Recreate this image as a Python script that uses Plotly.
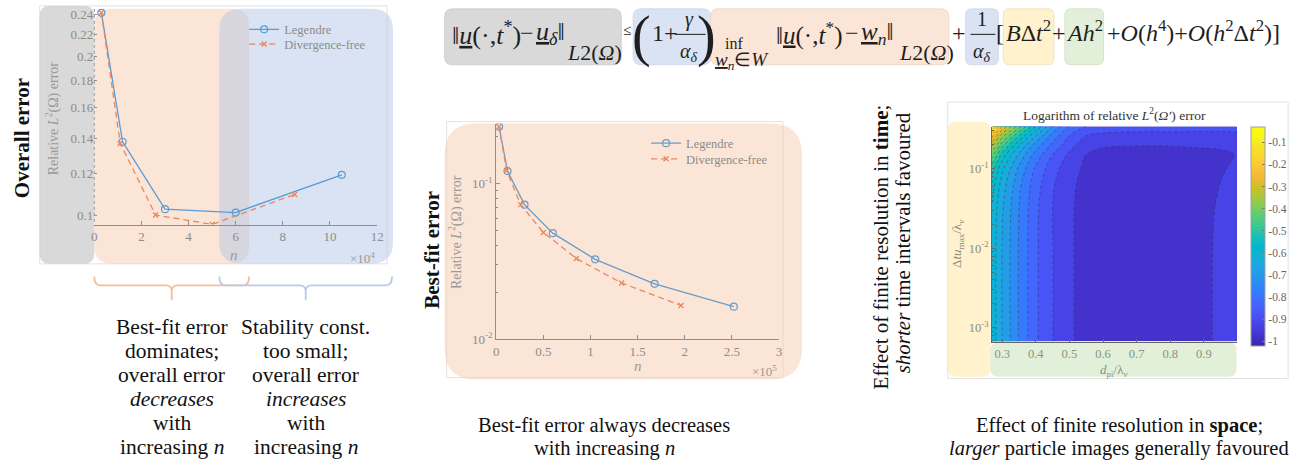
import math
import plotly.graph_objects as go

# ---------------- data ----------------
# Overall error vs number of basis functions n
n_leg_overall = [3000, 12000, 30000, 60000, 105000]
err_leg_overall = [0.242, 0.138, 0.1029, 0.1014, 0.1195]
n_div_overall = [3000, 11000, 26000, 50000, 85000]
err_div_overall = [0.242, 0.137, 0.1003, 0.0963, 0.1097]

# Best-fit error vs n
n_leg_bestfit = [3000, 12000, 30000, 60000, 105000, 168000, 252000]
err_leg_bestfit = [0.231, 0.120, 0.0731, 0.048, 0.0326, 0.0227, 0.0162]
n_div_bestfit = [3000, 11000, 26000, 50000, 85000, 133000, 196000]
err_div_bestfit = [0.231, 0.121, 0.0731, 0.0485, 0.033, 0.023, 0.0165]

# Logarithm of relative error over particle-image size and time step
d_pi = [0.27, 0.30, 0.35, 0.40, 0.45, 0.50, 0.55, 0.60, 0.70, 0.80, 0.90, 0.95, 1.00]
dt_umax = [0.00068, 0.001, 0.01, 0.03, 0.06, 0.1, 0.15, 0.2, 0.26, 0.34]
log_err = [
    [-0.57, -0.652, -0.754, -0.842, -0.899, -0.942, -0.970, -0.980, -0.990, -0.985, -0.965, -0.935, -0.915],
    [-0.57, -0.652, -0.754, -0.842, -0.899, -0.942, -0.970, -0.980, -0.990, -0.985, -0.965, -0.935, -0.915],
    [-0.57, -0.652, -0.754, -0.842, -0.899, -0.942, -0.970, -0.980, -0.990, -0.985, -0.965, -0.936, -0.916],
    [-0.56, -0.645, -0.750, -0.840, -0.900, -0.942, -0.970, -0.980, -0.990, -0.985, -0.967, -0.940, -0.920],
    [-0.53, -0.625, -0.740, -0.830, -0.895, -0.940, -0.965, -0.980, -0.988, -0.985, -0.968, -0.948, -0.930],
    [-0.48, -0.590, -0.710, -0.810, -0.880, -0.930, -0.960, -0.975, -0.983, -0.980, -0.968, -0.955, -0.940],
    [-0.38, -0.520, -0.660, -0.770, -0.850, -0.910, -0.950, -0.967, -0.972, -0.970, -0.962, -0.958, -0.948],
    [-0.28, -0.430, -0.590, -0.720, -0.810, -0.880, -0.930, -0.942, -0.946, -0.946, -0.944, -0.942, -0.938],
    [-0.18, -0.330, -0.500, -0.650, -0.770, -0.850, -0.900, -0.912, -0.915, -0.915, -0.914, -0.913, -0.910],
    [-0.04, -0.200, -0.380, -0.550, -0.700, -0.800, -0.850, -0.870, -0.880, -0.880, -0.883, -0.885, -0.885],
]

overall_xticks = [0, 20000, 40000, 60000, 80000, 100000, 120000]
overall_xlabels = ["0", "2", "4", "6", "8", "10", "12"]
overall_yticks = [0.1, 0.12, 0.14, 0.16, 0.18, 0.2, 0.22, 0.24]
overall_ylabels = ["0.1", "0.12", "0.14", "0.16", "0.18", "0.2", "0.22", "0.24"]
bestfit_xticks = [0, 50000, 100000, 150000, 200000, 250000, 300000]
bestfit_xlabels = ["0", "0.5", "1", "1.5", "2", "2.5", "3"]
contour_xticks = [0.3, 0.4, 0.5, 0.6, 0.7, 0.8, 0.9]
contour_yticks = [0.001, 0.01, 0.1]
contour_ylabels = ["10<sup>-3</sup>", "10<sup>-2</sup>", "10<sup>-1</sup>"]
cbar_ticks = [-0.1, -0.2, -0.3, -0.4, -0.5, -0.6, -0.7, -0.8, -0.9, -1.0]
cbar_labels = ["-0.1", "-0.2", "-0.3", "-0.4", "-0.5", "-0.6", "-0.7", "-0.8", "-0.9", "-1"]

# ---------------- helpers ----------------
W, H = 1313, 468
SERIF = "Liberation Serif"
TICK_GRAY = "#8c8c8c"
AX = "#8f8f8f"


def X(p):
    return p / W


def Y(p):
    return 1 - p / H


parula_rgb = [
    (0.2422, 0.1504, 0.6603), (0.2647, 0.1978, 0.7952), (0.2783, 0.2559, 0.8991),
    (0.2810, 0.3228, 0.9579), (0.2699, 0.3892, 0.9906), (0.2206, 0.4603, 0.9973),
    (0.1786, 0.5289, 0.9682), (0.1540, 0.5902, 0.9218), (0.1248, 0.6459, 0.8883),
    (0.0689, 0.6948, 0.8394), (0.0036, 0.7203, 0.7917), (0.0964, 0.7500, 0.7120),
    (0.2161, 0.7843, 0.5923), (0.3406, 0.8008, 0.4789), (0.5044, 0.7993, 0.3480),
    (0.6720, 0.7793, 0.2227), (0.8203, 0.7498, 0.1535), (0.9393, 0.7288, 0.2100),
    (0.9970, 0.7659, 0.2199), (0.9786, 0.8386, 0.1766), (0.9610, 0.8890, 0.1537),
    (0.9691, 0.9606, 0.1064), (0.9769, 0.9839, 0.0805),
]
PARULA = [[i / (len(parula_rgb) - 1),
           "rgb(%d,%d,%d)" % tuple(round(255 * c) for c in rgb)]
          for i, rgb in enumerate(parula_rgb)]


def pix_path(cmds, close=False):
    out = []
    for p in cmds:
        cmd, coords = p[0], p[1:]
        pairs = ["%.5f,%.5f" % (X(coords[i]), Y(coords[i + 1])) for i in range(0, len(coords), 2)]
        out.append(cmd + " " + " ".join(pairs))
    return " ".join(out) + (" Z" if close else "")


def rrect_path(x0, y0, x1, y1, r):
    return pix_path([("M", x0 + r, y0), ("L", x1 - r, y0), ("Q", x1, y0, x1, y0 + r),
                     ("L", x1, y1 - r), ("Q", x1, y1, x1 - r, y1), ("L", x0 + r, y1),
                     ("Q", x0, y1, x0, y1 - r), ("L", x0, y0 + r), ("Q", x0, y0, x0 + r, y0)], close=True)


shapes = []


def box(x0, y0, x1, y1, r, fill, opacity=1.0, line=None):
    shapes.append(dict(type="path", xref="paper", yref="paper", path=rrect_path(x0, y0, x1, y1, r),
                       fillcolor=fill, opacity=opacity, layer="below",
                       line=dict(color=line or "rgba(0,0,0,0)", width=0.8 if line else 0)))


def frame(x0, y0, x1, y1):
    shapes.append(dict(type="rect", xref="paper", yref="paper", x0=X(x0), x1=X(x1), y0=Y(y0), y1=Y(y1),
                       line=dict(color="#e2e2e2", width=1), layer="below"))


def hline(x0, x1, y, color="#222", width=1.0):
    shapes.append(dict(type="line", xref="paper", yref="paper", x0=X(x0), x1=X(x1), y0=Y(y), y1=Y(y),
                       line=dict(color=color, width=width)))


annotations = []


def txt(x, y, s, size=18, color="#111", xanchor="center", yanchor="middle", angle=0):
    annotations.append(dict(x=X(x), y=Y(y), xref="paper", yref="paper", text=s, showarrow=False,
                            font=dict(family=SERIF, size=size, color=color),
                            xanchor=xanchor, yanchor=yanchor, textangle=angle))


def legend_box(x, top):
    return dict(x=X(x), y=Y(top), xanchor="left", yanchor="top", bgcolor="rgba(0,0,0,0)",
                font=dict(family=SERIF, size=12.5, color=TICK_GRAY), itemwidth=30, tracegroupgap=0)


# ---------------- traces ----------------
LEG_C = "#5b9bd5"
DIV_C = "#e8875c"
LEG_C2 = "#6b9cc6"
DIV_C2 = "#e68a60"

fig = go.Figure()
fig.add_trace(go.Scatter(x=n_leg_overall, y=err_leg_overall, mode="lines+markers", name="Legendre",
                         line=dict(color=LEG_C, width=1.3),
                         marker=dict(symbol="circle-open", size=7, line=dict(width=1.2, color=LEG_C)),
                         xaxis="x", yaxis="y", legend="legend"))
fig.add_trace(go.Scatter(x=n_div_overall, y=err_div_overall, mode="lines+markers", name="Divergence-free",
                         line=dict(color=DIV_C, width=1.3, dash="6px,4px"),
                         marker=dict(symbol="x-thin-open", size=5, line=dict(width=1.3, color=DIV_C)),
                         xaxis="x", yaxis="y", legend="legend2"))
fig.add_trace(go.Scatter(x=n_leg_bestfit, y=err_leg_bestfit, mode="lines+markers", name="Legendre",
                         line=dict(color=LEG_C2, width=1.3),
                         marker=dict(symbol="circle-open", size=7, line=dict(width=1.2, color=LEG_C2)),
                         xaxis="x2", yaxis="y2", legend="legend3"))
fig.add_trace(go.Scatter(x=n_div_bestfit, y=err_div_bestfit, mode="lines+markers", name="Divergence-free",
                         line=dict(color=DIV_C2, width=1.3, dash="6px,4px"),
                         marker=dict(symbol="x-thin-open", size=5, line=dict(width=1.3, color=DIV_C2)),
                         xaxis="x2", yaxis="y2", legend="legend4"))

fig.add_trace(go.Contour(x=d_pi, y=dt_umax, z=log_err, xaxis="x3", yaxis="y3",
                         colorscale=PARULA, showscale=False, showlegend=False,
                         contours=dict(start=-1.0, end=0.0, size=0.05, coloring="fill"),
                         line=dict(color="rgba(40,40,40,0.55)", width=0.7, dash="dot")))
# continuous colour bar for the contour panel
fig.add_trace(go.Scatter(x=[None], y=[None], mode="markers", xaxis="x3", yaxis="y3", showlegend=False,
                         marker=dict(color=[-0.5], colorscale=PARULA, cmin=-1.02, cmax=-0.03, showscale=True,
                                     colorbar=dict(x=X(1258), xanchor="left", y=Y(128.3), yanchor="top",
                                                   len=219, lenmode="pixels", thickness=14,
                                                   thicknessmode="pixels", xpad=0, ypad=0,
                                                   outlinewidth=1, outlinecolor="#a0a0a0",
                                                   tickvals=cbar_ticks, ticktext=cbar_labels,
                                                   ticks="inside", ticklen=3, tickcolor="#777",
                                                   tickfont=dict(family=SERIF, size=11.5, color="#666")))))

# ---------------- decorations ----------------
# left panel: overall error
frame(37, 5, 387, 268)
box(37, 5, 92, 268, 10, "#b3b3b3", 0.5)
box(92, 8, 248, 268, 18, "#f8cbad", 0.5)
box(218, 8, 393, 268, 22, "#b4c7e7", 0.5)
shapes.append(dict(type="line", xref="paper", yref="paper", x0=X(92), x1=X(92), y0=Y(8), y1=Y(228),
                   line=dict(color="#9a9a9a", width=1, dash="dot")))
# braces under the left panel
shapes.append(dict(type="path", xref="paper", yref="paper", line=dict(color="#f1c09f", width=1.8),
                   path=pix_path([("M", 92, 281), ("Q", 92, 290, 98, 290), ("L", 164, 290),
                                  ("Q", 170, 290, 170, 296), ("L", 170, 305), ("M", 170, 296),
                                  ("Q", 170, 290, 176, 290), ("L", 242, 290), ("Q", 248, 290, 248, 281)])))
shapes.append(dict(type="path", xref="paper", yref="paper", line=dict(color="#b9cbe8", width=1.8),
                   path=pix_path([("M", 218, 281), ("Q", 218, 290, 224, 290), ("L", 299, 290),
                                  ("Q", 305, 290, 305, 296), ("L", 305, 305), ("M", 305, 296),
                                  ("Q", 305, 290, 311, 290), ("L", 386, 290), ("Q", 392, 290, 392, 281)])))

# middle panel: best-fit error
frame(447, 123, 786, 384)
box(445, 125, 805, 386, 32, "#f8cbad", 0.5)

# right panel: contour
frame(952, 103, 1295, 385)
box(952, 123, 995, 383, 8, "#ffe699", 0.5)
box(995, 348, 1243, 383, 8, "#c5e0b4", 0.5)

# equation boxes
box(445, 8, 623, 65, 8, "#d9d9d9", 1, "#c9c9c9")
box(635, 8, 713, 65, 8, "#dae3f3", 1, "#cbd5e6")
box(713, 8, 953, 65, 8, "#fbe5d6", 1, "#ecd3c2")
box(970, 8, 1003, 65, 6, "#dae3f3", 1, "#cbd5e6")
box(1008, 8, 1059, 65, 6, "#fff2cc", 1, "#eadfb8")
box(1070, 8, 1109, 65, 6, "#e2f0d9", 1, "#cfdfc4")

# ---------------- equation ----------------
EQ = "#1e1e1e"
ES = 24
txt(450, 33, "‖<i><u>u</u></i>(·,<i>t</i><sup>*</sup>)", 26, EQ, "left")
txt(528, 33, "−", ES, EQ)
txt(535, 33, "<i><u>u</u></i><sub><i>δ</i></sub>‖", 26, EQ, "left")
txt(566, 52, "<i>L</i>2(<i>Ω</i>)", 22, EQ, "left")
txt(629, 30, "≤", 15, EQ)
txt(643, 36, "(", 56, EQ)
txt(652, 33, "1+", ES, EQ, "left")
txt(692, 19, "<i>γ</i>", 20, EQ)
hline(677, 708, 34, EQ, 1)
txt(691, 52, "<i>α</i><sub><i>δ</i></sub>", 20, EQ)
txt(709, 36, ")", 56, EQ)
txt(737, 43, "inf", 16, EQ)
txt(715, 61, "<i><u>w</u></i><sub><i>n</i></sub>∈<i>W</i>", 19, EQ, "left")
txt(777, 33, "‖<i><u>u</u></i>(·,<i>t</i><sup>*</sup>)", 25, EQ, "left")
txt(856, 33, "−", ES, EQ)
txt(863, 33, "<i><u>w</u></i><sub><i>n</i></sub>‖", 25, EQ, "left")
txt(901, 52, "<i>L</i>2(<i>Ω</i>)", 22, EQ, "left")
txt(963, 33, "+", ES, EQ)
txt(987, 18, "1", 20, EQ)
hline(975, 1000, 34, EQ, 1)
txt(987, 52, "<i>α</i><sub><i>δ</i></sub>", 20, EQ)
txt(1005, 33, "[", ES, EQ)
txt(1033, 31, "<i>B</i>Δ<i>t</i><sup>2</sup>", ES, EQ)
txt(1064, 33, "+", ES, EQ)
txt(1090, 31, "<i>Ah</i><sup>2</sup>", ES, EQ)
txt(1110, 31, "+<i>O</i>(<i>h</i><sup>4</sup>)+<i>O</i>(<i>h</i><sup>2</sup>Δ<i>t</i><sup>2</sup>)]", ES, EQ, "left")

# ---------------- panel labels ----------------
txt(19, 140, "<b>Overall error</b>", 21, "#111", angle=-90)
txt(432, 254, "<b>Best-fit error</b>", 21, "#111", angle=-90)
txt(885, 251, "Effect of finite resolution in <b>time</b>;", 21, "#111", angle=-90)
txt(907, 247, "<i>shorter</i> time intervals favoured", 21, "#111", angle=-90)

txt(50, 120, "Relative <i>L</i><sup>2</sup>(Ω) error", 14, "#9a9a9a", angle=-90)
txt(233, 259, "<i>n</i>", 15, "#9a9a9a")
txt(362, 262, "×10<sup>4</sup>", 13, "#9a9a9a")
txt(456, 236, "Relative <i>L</i><sup>2</sup>(Ω) error", 14, "#9a9a9a", angle=-90)
txt(640, 372, "<i>n</i>", 15, "#9a9a9a")
txt(767, 377, "×10<sup>5</sup>", 13, "#9a9a9a")

txt(1120, 116, "Logarithm of relative <i>L</i><sup>2</sup>(<i>Ω′</i>) error", 13.5, "#333")
txt(962, 247, "Δ<i>tu</i><sub>max</sub>/λ<sub><i>ν</i></sub>", 13, "#8d8a78", angle=-90)
txt(1120, 377, "<i>d</i><sub>pi</sub>/λ<sub><i>ν</i></sub>", 13, "#8a9384")

# ---------------- captions ----------------
left_lines = ["Best-fit error", "dominates;", "overall error", "<i>decreases</i>", "with", "increasing <i>n</i>"]
right_lines = ["Stability const.", "too small;", "overall error", "<i>increases</i>", "with", "increasing <i>n</i>"]
for i, (a, b) in enumerate(zip(left_lines, right_lines)):
    yy = 332 + i * 24.6
    txt(170, yy, a, 21.5)
    txt(305, yy, b, 21.5)
txt(606, 433, "Best-fit error always decreases", 20.5)
txt(606, 456, "with increasing <i>n</i>", 20.5)
txt(1125, 433, "Effect of finite resolution in <b>space</b>;", 20.5)
txt(1125, 456, "<i>larger</i> particle images generally favoured", 20.5)

# ---------------- axes ----------------
tickfont = dict(family=SERIF, size=13, color=TICK_GRAY)
common = dict(showgrid=False, zeroline=False, ticks="inside", tickcolor=AX, tickfont=tickfont)

fig.update_layout(
    width=W, height=H, margin=dict(l=0, r=0, t=0, b=0),
    paper_bgcolor="white", plot_bgcolor="rgba(0,0,0,0)",
    xaxis=dict(domain=[X(92), X(377)], range=[0, 120000], tickvals=overall_xticks, ticktext=overall_xlabels,
               anchor="y", showline=True, linecolor=AX, ticklen=4, **common),
    yaxis=dict(domain=[Y(228), Y(8)], type="log", range=[math.log10(0.0962), math.log10(0.2462)],
               tickvals=overall_yticks, ticktext=overall_ylabels, anchor="x", showline=False, ticklen=3,
               **common),
    xaxis2=dict(domain=[X(497), X(782)], range=[0, 300000], tickvals=bestfit_xticks, ticktext=bestfit_xlabels,
                anchor="y2", showline=True, linecolor=AX, ticklen=4, **common),
    yaxis2=dict(domain=[Y(345), Y(125)], type="log", range=[-2, -0.6164],
                tickvals=[0.01, 0.1], ticktext=["10<sup>-2</sup>", "10<sup>-1</sup>"], anchor="x2",
                showline=True, linecolor=AX, ticklen=4,
                minor=dict(ticks="inside", ticklen=2, tickcolor=AX, dtick="D1"), **common),
    xaxis3=dict(domain=[X(996.7), X(1243.3)], range=[0.27, 0.998], tickvals=contour_xticks,
                anchor="y3", showline=True, linecolor="#666", ticklen=3,
                showgrid=False, zeroline=False, ticks="inside", tickcolor="#666",
                tickfont=dict(family=SERIF, size=12.5, color="#8a9384")),
    yaxis3=dict(domain=[Y(347.3), Y(128.3)], type="log", range=[-3.1725, -0.474], tickvals=contour_yticks,
                ticktext=contour_ylabels, anchor="x3", showline=True, linecolor="#666", ticklen=3,
                minor=dict(ticks="inside", ticklen=2, tickcolor="#666", dtick="D1"),
                showgrid=False, zeroline=False, ticks="inside", tickcolor="#666",
                tickfont=dict(family=SERIF, size=12.5, color="#8d8a78")),
    legend=legend_box(243, 14),
    legend2=legend_box(243, 29),
    legend3=legend_box(648, 130),
    legend4=legend_box(648, 146),
    shapes=shapes, annotations=annotations,
)

fig.write_html("out.html")
